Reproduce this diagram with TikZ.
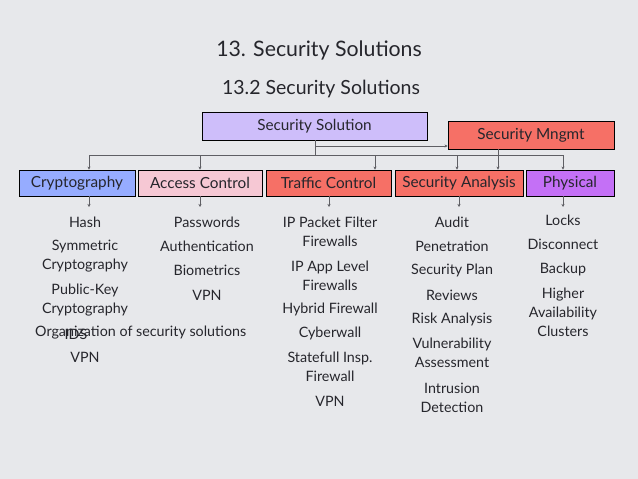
\documentclass[tikz,border=0pt]{standalone}
\usepackage{fontspec}
\setmainfont{Lato}
\usetikzlibrary{arrows.meta}
\definecolor{bgc}{RGB}{231,232,235}
\definecolor{txt}{RGB}{38,38,44}
\definecolor{lav}{RGB}{206,190,250}
\definecolor{salm}{RGB}{246,112,102}
\definecolor{blu}{RGB}{150,172,255}
\definecolor{pnk}{RGB}{246,200,212}
\definecolor{purp}{RGB}{196,112,246}
\definecolor{conn}{RGB}{95,95,100}
\tikzset{
  box/.style={draw=black, line width=0.8pt, minimum height=26pt, inner sep=0pt, text=txt, font=\fontsize{15.3}{17}\selectfont},
  item/.style={text=txt, align=center, inner sep=0pt, font=\fontsize{14.3}{19}\selectfont},
  link/.style={draw=conn, line width=0.9pt},
  arr/.style={link, -{Stealth[length=3pt,width=3pt]}},
}
\begin{document}
\begin{tikzpicture}[x=1pt,y=-1pt]
\fill[bgc] (0,0) rectangle (638,479);
\useasboundingbox (0,0) rectangle (638,479);
% titles
\node[text=txt, font=\fontsize{21.3}{24}\selectfont] (t1) at (319,50) {13. Security Solutions};
\node[text=txt, font=\fontsize{19.5}{22}\selectfont] (t2) at (321,89) {13.2 Security Solutions};
% top boxes
\node[box, fill=lav, minimum width=225pt, minimum height=28pt] (ss) at (314.5,126) {Security Solution};
\node[box, fill=salm, minimum width=166pt, minimum height=28pt] (sm) at (531,135) {Security Mngmt};
% row boxes
\node[box, fill=blu, minimum width=116pt] (cr) at (77,183) {Cryptography};
\node[box, fill=pnk, minimum width=124pt] (ac) at (200,183) {Access Control};
\node[box, fill=salm, minimum width=125pt] (tc) at (328.5,183) {Traffic Control};
\node[box, fill=salm, minimum width=128pt] (sa) at (459,183) {Security Analysis};
\node[box, fill=purp, minimum width=88pt] (ph) at (570,183) {Physical};
% junction coordinates
\coordinate (jss) at (315,155);
\coordinate (jsm) at (315,146);
\coordinate (jl) at (89,155);
\coordinate (jac) at (200,155);
\coordinate (jtc) at (375,155);
\coordinate (jsa) at (457,155);
\coordinate (jr) at (563,155);
% connectors
\draw[link] (ss.south -| jss) -- (jss);
\draw[arr] (jsm) -- (sm.west |- jsm);
\draw[link] (jl) -- (jr);
\draw[arr] (jl) -- (cr.north -| jl);
\draw[arr] (jac) -- (ac.north -| jac);
\draw[arr] (jtc) -- (tc.north -| jtc);
\draw[arr] (jsa) -- (sa.north -| jsa);
\draw[arr] (jr) -- (ph.north -| jr);
\draw[arr] (sm.south -| 498,0) -- (sa.north -| 498,0);
% down arrows below boxes
\coordinate (dcr) at (89,207);
\coordinate (dac) at (200,207);
\coordinate (dtc) at (329,207);
\coordinate (dsa) at (459,207);
\coordinate (dph) at (563,207);
\draw[arr] (cr.south -| dcr) -- (dcr);
\draw[arr] (ac.south -| dac) -- (dac);
\draw[arr] (tc.south -| dtc) -- (dtc);
\draw[arr] (sa.south -| dsa) -- (dsa);
\draw[arr] (ph.south -| dph) -- (dph);
% cryptography column
\node[item] (c1) at (85,222) {Hash};
\node[item] (c2) at (85,256.5) {Symmetric\\Cryptography};
\node[item] (c3) at (85,300.5) {Public-Key\\Cryptography};
\node[item, anchor=west] (c4) at (35,333) {Organization of security solutions};
\node[item] (c5) at (76,334) {IDS};
\node[item] (c6) at (85,357) {VPN};
% access control column
\node[item] (a1) at (207,222) {Passwords};
\node[item] (a2) at (207,246) {Authentication};
\node[item] (a3) at (207,270) {Biometrics};
\node[item] (a4) at (207,295) {VPN};
% traffic control column
\node[item] (f1) at (330,231.5) {IP Packet Filter\\Firewalls};
\node[item] (f2) at (330,275.5) {IP App Level\\Firewalls};
\node[item] (f3) at (330,309) {Hybrid Firewall};
\node[item] (f4) at (330,333) {Cyberwall};
\node[item] (f5) at (330,366.5) {Statefull Insp.\\Firewall};
\node[item] (f6) at (330,401) {VPN};
% security analysis column
\node[item] (s1) at (452,222) {Audit};
\node[item] (s2) at (452,246) {Penetration};
\node[item] (s3) at (452,270) {Security Plan};
\node[item] (s4) at (452,295) {Reviews};
\node[item] (s5) at (452,319) {Risk Analysis};
\node[item] (s6) at (452,352.5) {Vulnerability\\Assessment};
\node[item] (s7) at (452,397.5) {Intrusion\\Detection};
% physical column
\node[item] (p1) at (563,220) {Locks};
\node[item] (p2) at (563,244) {Disconnect};
\node[item] (p3) at (563,269) {Backup};
\node[item] (p4) at (563,312) {Higher\\Availability\\Clusters};
\end{tikzpicture}
\end{document}
